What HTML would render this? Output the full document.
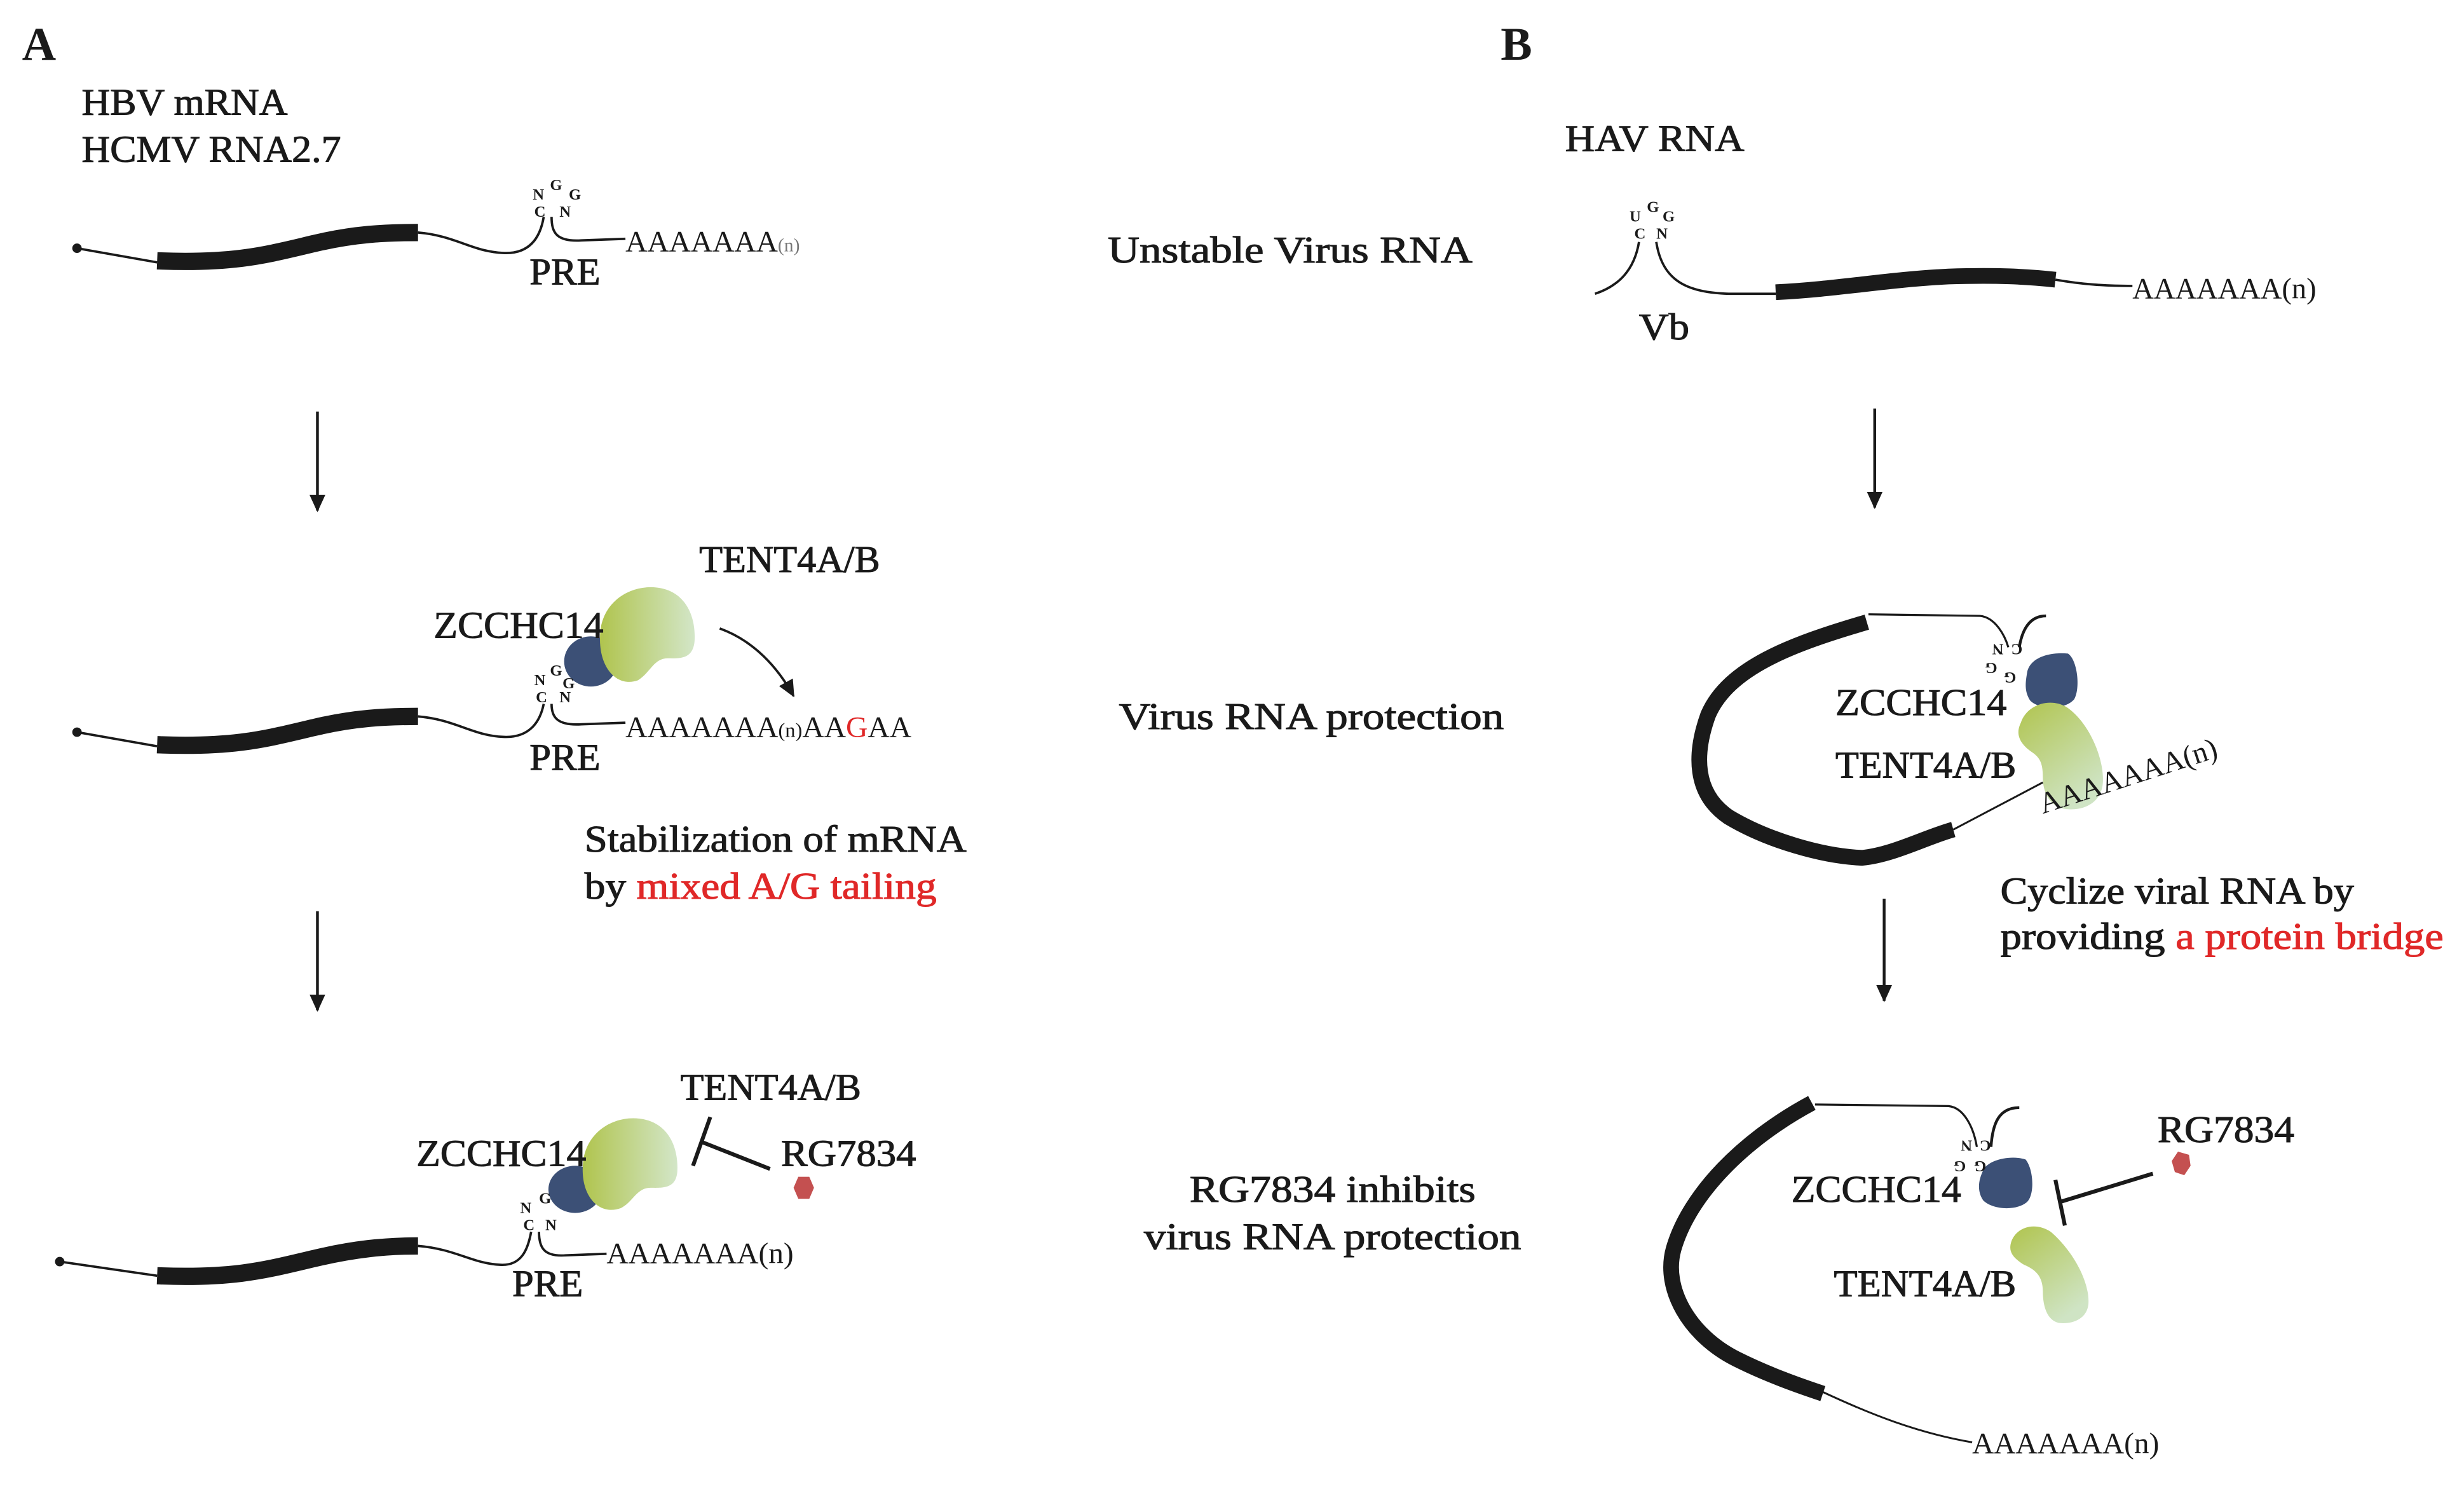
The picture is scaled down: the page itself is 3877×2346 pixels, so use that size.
<!DOCTYPE html>
<html><head><meta charset="utf-8"><style>
html,body{margin:0;padding:0;background:#fff;}
svg{display:block;}
</style></head><body>
<svg width="3877" height="2346" viewBox="0 0 1568 949" preserveAspectRatio="none" xmlns="http://www.w3.org/2000/svg" font-family="Liberation Serif, serif">
<defs>
<linearGradient id="g1" x1="0" y1="0" x2="1" y2="0"><stop offset="0" stop-color="#b0c44e"/><stop offset="1" stop-color="#d3e6c8"/></linearGradient>
<linearGradient id="g2" x1="0" y1="0" x2="0.6" y2="1"><stop offset="0" stop-color="#b0c44e"/><stop offset="1" stop-color="#cfe4c4"/></linearGradient>
<marker id="ah" markerWidth="12" markerHeight="12" refX="10" refY="5" orient="auto" markerUnits="userSpaceOnUse"><path d="M0,0 L11,5 L0,10 Z" fill="#1a1a1a"/></marker>
</defs>
<rect width="1568" height="949" fill="#fff"/>

<!-- A row1 -->
<circle cx="49" cy="158" r="3" fill="#1a1a1a"/>
<path d="M49,158 L100,167" stroke="#1a1a1a" stroke-width="1.5" fill="none"/>
<path d="M100,166 C150,168 170,162 200,155 C225,149 245,148 266,148" stroke="#1a1a1a" stroke-width="11" fill="none"/>
<path d="M266,148 C290,150 300,160 320,161 C338,162 344,150 346,138" stroke="#1a1a1a" stroke-width="1.5" fill="none"/>
<path d="M351,138 C351,148 354,154 370,153 L398,152" stroke="#1a1a1a" stroke-width="1.5" fill="none"/>

<!-- arrows -->
<path d="M202,262 L202,325" stroke="#1a1a1a" stroke-width="1.8" marker-end="url(#ah)"/>
<path d="M202,580 L202,643" stroke="#1a1a1a" stroke-width="1.8" marker-end="url(#ah)"/>
<path d="M1193,260 L1193,323" stroke="#1a1a1a" stroke-width="1.8" marker-end="url(#ah)"/>
<path d="M1199,572 L1199,637" stroke="#1a1a1a" stroke-width="1.8" marker-end="url(#ah)"/>

<!-- A row2 -->
<circle cx="49" cy="466" r="3" fill="#1a1a1a"/>
<path d="M49,466 L100,475" stroke="#1a1a1a" stroke-width="1.5" fill="none"/>
<path d="M100,474 C150,476 170,470 200,463 C225,457 245,456 266,456" stroke="#1a1a1a" stroke-width="11" fill="none"/>
<path d="M266,456 C290,458 300,468 320,469 C338,470 344,458 346,448" stroke="#1a1a1a" stroke-width="1.5" fill="none"/>
<path d="M351,448 C351,456 354,462 370,461 L398,460" stroke="#1a1a1a" stroke-width="1.5" fill="none"/>
<ellipse cx="376" cy="421" rx="17" ry="16" fill="#3c5076"/>
<path d="M382,402 C384,382 402,372 418,374 C436,376 443,392 442,408 C441,420 432,419 425,419 C416,419 414,428 406,433 C392,438 380,424 382,402 Z" fill="url(#g1)"/>
<path d="M458,400 C480,408 495,425 505,443" stroke="#1a1a1a" stroke-width="1.5" fill="none" marker-end="url(#ah)"/>

<!-- A row3 -->
<circle cx="38" cy="803" r="3" fill="#1a1a1a"/>
<path d="M38,803 L100,812" stroke="#1a1a1a" stroke-width="1.5" fill="none"/>
<path d="M100,812 C150,814 170,808 200,801 C225,795 245,793 266,793" stroke="#1a1a1a" stroke-width="11" fill="none"/>
<path d="M266,793 C290,795 300,804 318,805 C332,806 336,795 338,784" stroke="#1a1a1a" stroke-width="1.5" fill="none"/>
<path d="M343,784 C343,794 346,800 360,799 L386,798" stroke="#1a1a1a" stroke-width="1.5" fill="none"/>
<ellipse cx="366" cy="757" rx="17" ry="15" fill="#3c5076"/>
<path d="M371,740 C373,720 391,710 407,712 C425,714 432,730 431,746 C430,757 421,756 414,756 C405,756 403,765 395,769 C381,774 369,761 371,740 Z" fill="url(#g1)"/>
<path d="M441,742 L452,711" stroke="#1a1a1a" stroke-width="2.5"/>
<path d="M447,727 L490,744" stroke="#1a1a1a" stroke-width="2.5"/>
<polygon points="508,749 515,749 518,756 515,763 508,763 505,756" fill="#c45050"/>

<!-- B row1 -->
<path d="M1015,187 C1030,182 1040,172 1043,154" stroke="#1a1a1a" stroke-width="1.5" fill="none"/>
<path d="M1054,154 C1058,180 1075,186 1100,187 L1130,187" stroke="#1a1a1a" stroke-width="1.5" fill="none"/>
<path d="M1130,186 C1170,184 1200,178 1240,176 C1270,175 1290,176 1308,178" stroke="#1a1a1a" stroke-width="10" fill="none"/>
<path d="M1308,178 C1325,181 1340,182 1357,182" stroke="#1a1a1a" stroke-width="1.5" fill="none"/>

<!-- B row2 -->
<path d="M1188,396 C1140,410 1100,425 1087,455 C1078,480 1078,505 1100,520 C1125,535 1160,545 1185,546 C1205,544 1225,533 1243,528" stroke="#1a1a1a" stroke-width="10" fill="none" stroke-linejoin="round"/>
<path d="M1189,391 L1260,392 C1270,393 1276,405 1278,412" stroke="#1a1a1a" stroke-width="1.3" fill="none"/>
<path d="M1285,412 C1287,400 1292,392 1302,392" stroke="#1a1a1a" stroke-width="1.8" fill="none"/>
<path d="M1290,428 C1292,418 1305,415 1316,416 C1322,420 1324,438 1320,445 C1314,452 1298,452 1292,446 C1288,440 1289,434 1290,428 Z" fill="#3c5076"/>
<path d="M1286,460 C1290,448 1305,444 1315,450 C1330,460 1340,485 1338,500 C1336,512 1325,516 1315,515 C1305,514 1300,505 1300,495 C1300,485 1298,482 1292,478 C1284,472 1283,466 1286,460 Z" fill="url(#g2)"/>
<path d="M1243,528 L1300,498" stroke="#1a1a1a" stroke-width="1.2"/>

<!-- B row3 -->
<path d="M1153,702 C1110,725 1075,760 1065,795 C1058,820 1075,850 1105,865 C1125,875 1145,882 1160,887" stroke="#1a1a1a" stroke-width="10" fill="none"/>
<path d="M1155,703 L1240,704 C1250,705 1256,718 1258,730" stroke="#1a1a1a" stroke-width="1.3" fill="none"/>
<path d="M1267,730 C1268,715 1272,705 1285,705" stroke="#1a1a1a" stroke-width="1.8" fill="none"/>
<path d="M1262,745 C1265,738 1280,735 1289,738 C1294,744 1295,760 1290,765 C1283,771 1268,770 1262,764 C1258,758 1259,751 1262,745 Z" fill="#3c5076"/>
<path d="M1280,790 C1284,780 1296,778 1305,784 C1318,795 1330,815 1329,830 C1328,840 1318,843 1310,842 C1302,840 1300,830 1300,822 C1300,812 1295,808 1288,805 C1280,800 1278,796 1280,790 Z" fill="url(#g2)"/>
<path d="M1308,751 L1314,780" stroke="#1a1a1a" stroke-width="2.5"/>
<path d="M1311,765 L1370,747" stroke="#1a1a1a" stroke-width="2.5"/>
<polygon points="1386,733 1393,735 1394,742 1390,748 1384,746 1382,739" fill="#c45050"/>
<path d="M1160,886 C1190,900 1220,912 1255,918" stroke="#1a1a1a" stroke-width="1.2" fill="none"/>

<g fill="#1a1a1a" font-family="Liberation Serif, serif">
<g font-size="24" stroke="#1a1a1a" stroke-width="0.45">
<text x="52" y="73" textLength="131" lengthAdjust="spacingAndGlyphs">HBV mRNA</text>
<text x="52" y="103" textLength="165" lengthAdjust="spacingAndGlyphs">HCMV RNA2.7</text>
<text x="337" y="181" textLength="45" lengthAdjust="spacingAndGlyphs">PRE</text>
<text x="445" y="364" textLength="115" lengthAdjust="spacingAndGlyphs">TENT4A/B</text>
<text x="276" y="406" textLength="108" lengthAdjust="spacingAndGlyphs">ZCCHC14</text>
<text x="337" y="490" textLength="45" lengthAdjust="spacingAndGlyphs">PRE</text>
<text x="372" y="542" textLength="243" lengthAdjust="spacingAndGlyphs">Stabilization of mRNA</text>
<text x="372" y="572" textLength="224" lengthAdjust="spacingAndGlyphs">by <tspan fill="#e02828" stroke="#e02828">mixed A/G tailing</tspan></text>
<text x="433" y="700" textLength="115" lengthAdjust="spacingAndGlyphs">TENT4A/B</text>
<text x="265" y="742" textLength="108" lengthAdjust="spacingAndGlyphs">ZCCHC14</text>
<text x="497" y="742" textLength="86" lengthAdjust="spacingAndGlyphs">RG7834</text>
<text x="326" y="825" textLength="45" lengthAdjust="spacingAndGlyphs">PRE</text>
<text x="705" y="167" textLength="232" lengthAdjust="spacingAndGlyphs">Unstable Virus RNA</text>
<text x="712" y="464" textLength="245" lengthAdjust="spacingAndGlyphs">Virus RNA protection</text>
<text x="757" y="765" textLength="182" lengthAdjust="spacingAndGlyphs">RG7834 inhibits</text>
<text x="728" y="795" textLength="240" lengthAdjust="spacingAndGlyphs">virus RNA protection</text>
<text x="996" y="96" textLength="114" lengthAdjust="spacingAndGlyphs">HAV RNA</text>
<text x="1043" y="216" textLength="32" lengthAdjust="spacingAndGlyphs">Vb</text>
<text x="1168" y="455" textLength="109" lengthAdjust="spacingAndGlyphs">ZCCHC14</text>
<text x="1168" y="495" textLength="115" lengthAdjust="spacingAndGlyphs">TENT4A/B</text>
<text x="1273" y="575" textLength="225" lengthAdjust="spacingAndGlyphs">Cyclize viral RNA by</text>
<text x="1273" y="604" textLength="282" lengthAdjust="spacingAndGlyphs">providing <tspan fill="#e02828" stroke="#e02828">a protein bridge</tspan></text>
<text x="1373" y="727" textLength="87" lengthAdjust="spacingAndGlyphs">RG7834</text>
<text x="1140" y="765" textLength="108" lengthAdjust="spacingAndGlyphs">ZCCHC14</text>
<text x="1167" y="825" textLength="116" lengthAdjust="spacingAndGlyphs">TENT4A/B</text>
</g>
<text x="14" y="38" font-size="30" font-weight="bold">A</text>
<text x="955" y="38" font-size="30" font-weight="bold">B</text>
<g font-size="19">
<text x="398" y="160" textLength="97" lengthAdjust="spacingAndGlyphs">AAAAAAA</text>
<text x="495" y="160" font-size="12" fill="#777">(n)</text>
<text x="398" y="469" textLength="182" lengthAdjust="spacingAndGlyphs">AAAAAAA<tspan font-size="13">(n)</tspan>AA<tspan fill="#e02828">G</tspan>AA</text>
<text x="386" y="804" textLength="119" lengthAdjust="spacingAndGlyphs">AAAAAAA(n)</text>
<text x="1357" y="190" textLength="117" lengthAdjust="spacingAndGlyphs">AAAAAAA(n)</text>
<text x="1300" y="518" transform="rotate(-18 1300 518)" textLength="118" lengthAdjust="spacingAndGlyphs">AAAAAAA(n)</text>
<text x="1255" y="925" textLength="119" lengthAdjust="spacingAndGlyphs">AAAAAAA(n)</text>
</g>
<g font-size="10" font-weight="bold">
<text x="339" y="127">N</text><text x="350" y="121">G</text><text x="362" y="127">G</text>
<text x="340" y="138">C</text><text x="356" y="138">N</text>
<text x="340" y="436">N</text><text x="350" y="430">G</text><text x="358" y="438">G</text>
<text x="341" y="447">C</text><text x="356" y="447">N</text>
<text x="331" y="772">N</text><text x="343" y="766">G</text>
<text x="333" y="783">C</text><text x="347" y="783">N</text>
<text x="1037" y="141">U</text><text x="1048" y="135">G</text><text x="1058" y="141">G</text>
<text x="1040" y="152">C</text><text x="1054" y="152">N</text>
<text x="1283" y="416" transform="rotate(180 1279 413)">N</text>
<text x="1295" y="416" transform="rotate(180 1291 413)">C</text>
<text x="1279" y="428" transform="rotate(180 1275 425)">G</text>
<text x="1291" y="434" transform="rotate(180 1287 431)">G</text>
<text x="1263" y="732" transform="rotate(180 1259 729)">N</text>
<text x="1275" y="732" transform="rotate(180 1271 729)">C</text>
<text x="1259" y="745" transform="rotate(180 1255 742)">G</text>
<text x="1272" y="745" transform="rotate(180 1268 742)">G</text>
</g>
</g>
</svg>
</body></html>
